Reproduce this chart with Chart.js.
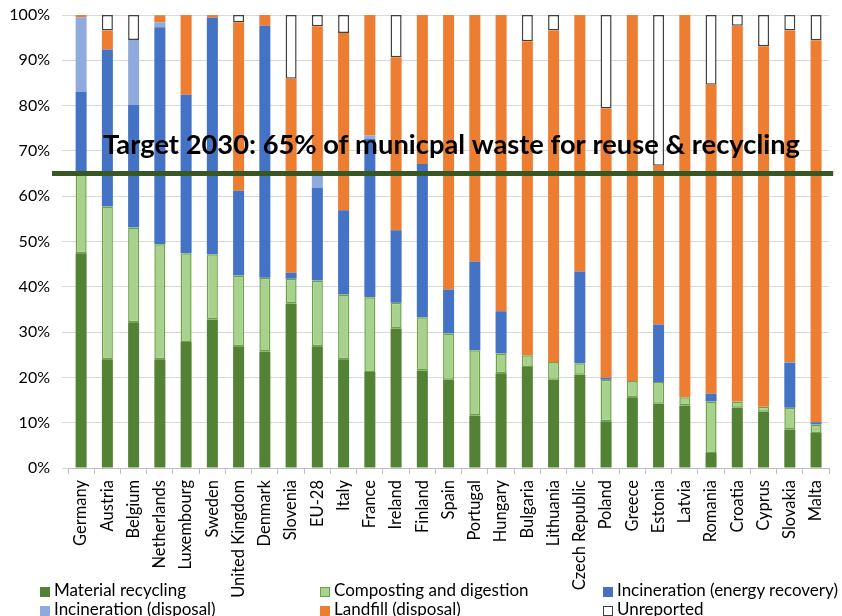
<!DOCTYPE html>
<html>
<head>
<meta charset="utf-8">
<script src="https://cdn.jsdelivr.net/npm/chart.js@4"></script>
<style>
  body { margin: 0; background: #fff; }
  #wrap { position: relative; width: 842px; height: 616px; font-family: Lato, sans-serif; }
  #myChart { position: absolute; left: 0; top: 0; }
  .leg { position: absolute; font-size: 17px; color: #000; line-height: 19px; white-space: nowrap; }
  .leg i { display: inline-block; width: 10px; height: 10px; margin-right: 4px; vertical-align: -1px; box-sizing: border-box; }
</style>
</head>
<body>
<div id="wrap">
  <canvas id="myChart" width="842" height="616"></canvas>
  <div id="legend"></div>
</div>
<script>
const countries = ["Germany", "Austria", "Belgium", "Netherlands", "Luxembourg", "Sweden",
  "United Kingdom", "Denmark", "Slovenia", "EU-28", "Italy", "France", "Ireland", "Finland",
  "Spain", "Portugal", "Hungary", "Bulgaria", "Lithuania", "Czech Republic", "Poland",
  "Greece", "Estonia", "Latvia", "Romania", "Croatia", "Cyprus", "Slovakia", "Malta"];

const materialRecycling = [47.4, 24.0, 32.2, 24.0, 27.8, 32.8, 26.9, 25.7, 36.3, 26.9, 24.0,
  21.2, 30.8, 21.5, 19.5, 11.6, 20.9, 22.3, 19.5, 20.6, 10.3, 15.6, 14.2, 13.8, 3.3, 13.3, 12.4, 8.5, 7.7];
const composting = [17.6, 33.7, 20.9, 25.4, 19.6, 14.4, 15.6, 16.3, 5.5, 14.5, 14.3, 16.5, 5.7,
  11.8, 10.2, 14.4, 4.4, 2.6, 3.9, 2.5, 9.2, 3.6, 4.8, 1.8, 11.4, 1.4, 1.1, 4.8, 1.9];
const incinerationEnergy = [18.0, 34.7, 27.1, 47.9, 35.0, 52.2, 18.7, 55.6, 1.3, 20.4, 18.6,
  34.9, 16.0, 33.8, 9.7, 19.6, 9.3, 0, 0, 20.3, 0.4, 0, 12.7, 0, 1.7, 0, 0, 9.9, 0.5];
const incinerationDisposal = [16.5, 0, 14.3, 1.1, 0, 0, 0, 0, 0, 2.7, 0, 0.8, 0, 0, 0, 0, 0,
  0, 0, 0, 0, 0, 0, 0, 0, 0, 0, 0.2, 0];
const landfill = [0.5, 4.2, 0, 1.5, 17.6, 0.6, 37.2, 2.4, 42.8, 33.0, 39.1, 26.6, 38.2, 32.9,
  60.6, 54.4, 65.4, 69.3, 73.2, 56.6, 59.5, 80.8, 35.0, 84.4, 68.2, 82.9, 79.6, 73.2, 84.3];
const unreported = [0, 3.4, 5.5, 0.1, 0, 0, 1.6, 0, 14.1, 2.5, 4.0, 0, 9.3, 0, 0, 0, 0, 5.8,
  3.4, 0, 20.6, 0, 33.3, 0, 15.4, 2.4, 6.9, 3.4, 5.6];

const yTicks = [0, 10, 20, 30, 40, 50, 60, 70, 80, 90, 100];
const target = 65;
const targetLabel = "Target 2030: 65% of municpal waste for reuse & recycling";

const series = [
  { label: "Material recycling", data: materialRecycling, bg: "#548235", border: "#548235", bw: 0 },
  { label: "Composting and digestion", data: composting, bg: "#A9D18E", border: "#6AA443", bw: 1.5 },
  { label: "Incineration (energy recovery)", data: incinerationEnergy, bg: "#4472C4", border: "#4472C4", bw: 0 },
  { label: "Incineration (disposal)", data: incinerationDisposal, bg: "#8FAADC", border: "#8FAADC", bw: 0 },
  { label: "Landfill (disposal)", data: landfill, bg: "#ED7D31", border: "#ED7D31", bw: 0 },
  { label: "Unreported", data: unreported, bg: "#FFFFFF", border: "#404040", bw: 1.5 },
];

// legend as a 3-column grid like the original
const legendPos = [[40, 580], [320, 580], [603, 580], [40, 599], [320, 599], [603, 599]];
const legend = document.getElementById("legend");
series.forEach((s, i) => {
  const d = document.createElement("div");
  d.className = "leg";
  d.style.left = legendPos[i][0] + "px";
  d.style.top = legendPos[i][1] + "px";
  const box = document.createElement("i");
  box.style.background = s.bg;
  if (s.bw) box.style.border = "1px solid " + s.border;
  d.appendChild(box);
  d.appendChild(document.createTextNode(s.label));
  legend.appendChild(d);
});

const targetLine = {
  id: "targetLine",
  afterDatasetsDraw(chart) {
    const c = chart.ctx;
    const area = chart.chartArea;
    const y = chart.scales.y.getPixelForValue(target);
    c.save();
    c.strokeStyle = "#385723";
    c.lineWidth = 5;
    c.beginPath();
    c.moveTo(area.left - 16, y);
    c.lineTo(area.right + 4, y);
    c.stroke();
    c.fillStyle = "#000";
    c.font = "bold 27.5px Lato";
    c.textAlign = "left";
    c.textBaseline = "alphabetic";
    c.fillText(targetLabel, area.left + 35, y - 20, 697);
    c.restore();
  },
};

const ctx = document.getElementById("myChart").getContext("2d");
const myChart = new Chart(ctx, {
  type: "bar",
  data: {
    labels: countries,
    datasets: series.map((s) => ({
      label: s.label,
      data: s.data,
      backgroundColor: s.bg,
      borderColor: s.border,
      borderWidth: (c) => (s.bw && c.raw > 0 ? s.bw : 0),
      borderSkipped: false,
      barPercentage: 0.42,
      categoryPercentage: 1,
    })),
  },
  options: {
    responsive: false,
    animation: false,
    devicePixelRatio: 1,
    layout: { padding: { top: 15, right: 8, left: 0, bottom: 0 } },
    plugins: { legend: { display: false }, tooltip: { enabled: false } },
    scales: {
      x: {
        stacked: true,
        afterFit: (scale) => { scale.height = 148; },
        grid: { offset: true, drawOnChartArea: false, drawTicks: true, tickLength: 6, color: "#BFBFBF" },
        border: { color: "#BFBFBF" },
        ticks: {
          minRotation: 90, maxRotation: 90, autoSkip: false, padding: 6,
          color: "#000", font: { family: "Lato", size: 16.5 },
        },
      },
      y: {
        stacked: true,
        min: 0,
        max: 100,
        afterFit: (scale) => {
          scale.width = 68;
          scale.paddingTop = 0;
          scale.paddingBottom = 0;
        },
        afterBuildTicks: (scale) => { scale.ticks = yTicks.map((v) => ({ value: v })); },
        grid: { color: "#D9D9D9", tickLength: 6 },
        border: { display: false },
        ticks: {
          padding: 12, color: "#000", font: { family: "Lato", size: 16 },
          callback: (v) => v + "%",
        },
      },
    },
  },
  plugins: [targetLine],
});
</script>
</body>
</html>
